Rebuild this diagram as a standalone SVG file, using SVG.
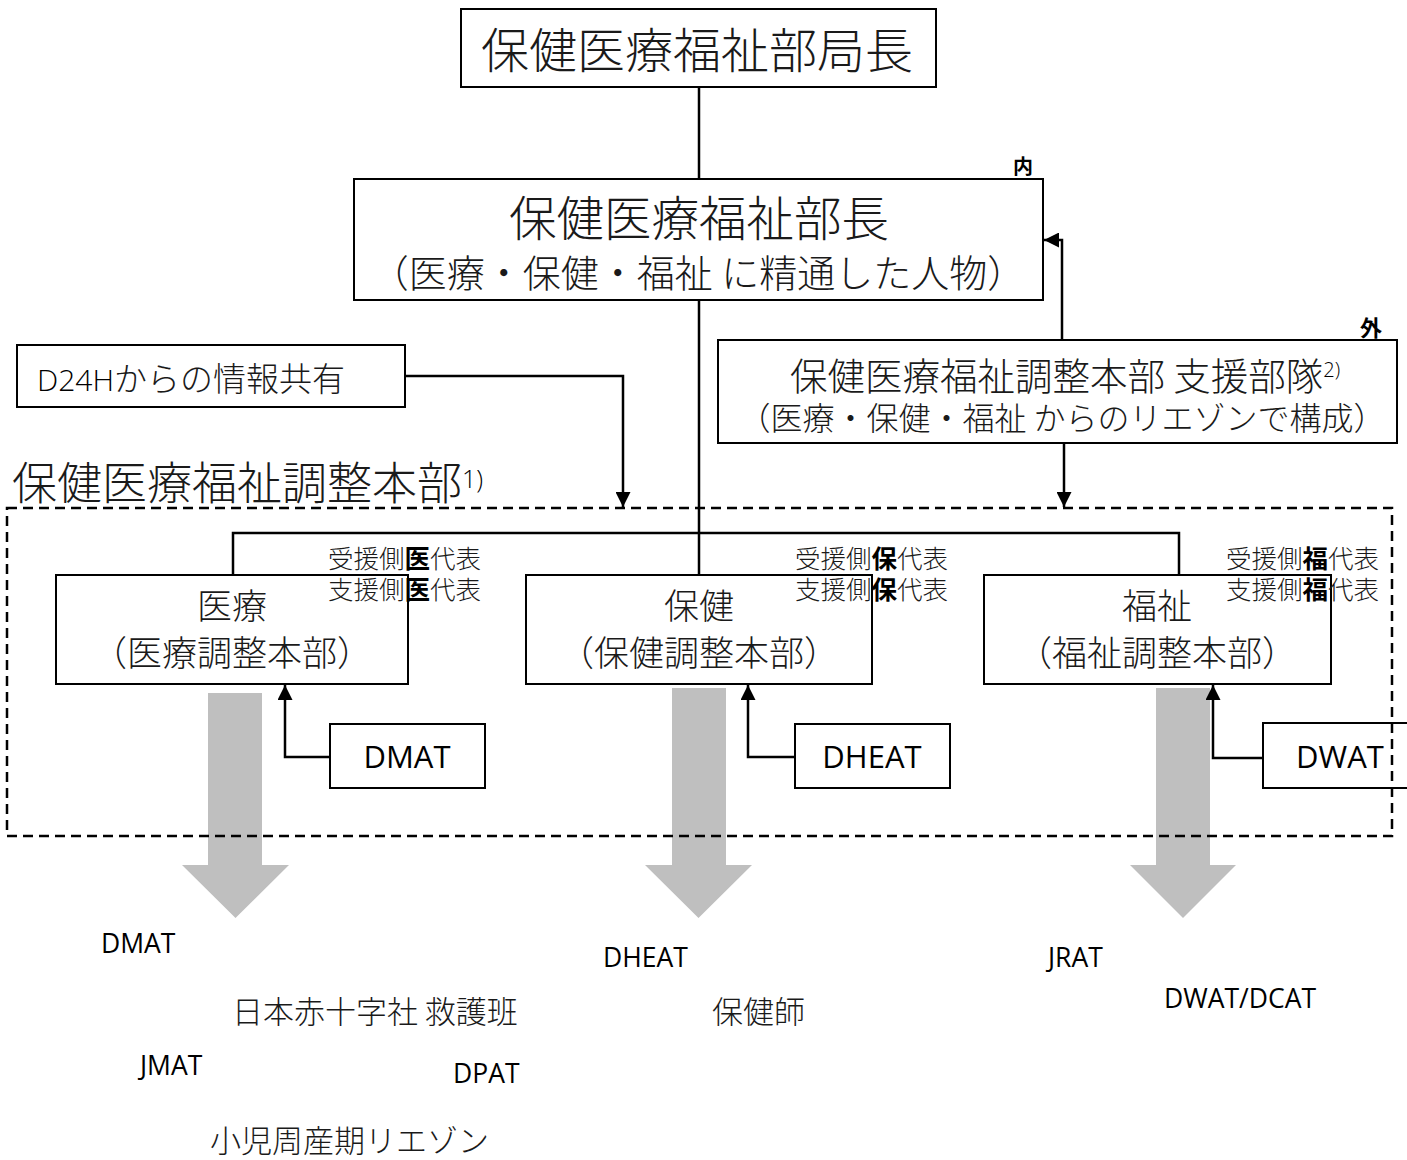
<svg xmlns="http://www.w3.org/2000/svg" width="1407" height="1160" viewBox="0 0 1407 1160">
<style>
.box{fill:#fff;stroke:#000;stroke-width:2}
.jp{font-family:"Noto Sans CJK JP","Noto Sans CJK SC",sans-serif;font-weight:300;fill:#1a1a1a}
.b{font-weight:bold;fill:#000}
.lat{font-family:"Open Sans","Liberation Sans",sans-serif;fill:#000}
.conn{fill:none;stroke:#000;stroke-width:2.5}
.gray{fill:#bfbfbf}
.dash{fill:none;stroke:#000;stroke-width:2.5;stroke-dasharray:10 6}
.m{text-anchor:middle}
</style>
<defs>
<marker id="ah" viewBox="0 0 10 10" refX="10" refY="5" markerWidth="16" markerHeight="15" markerUnits="userSpaceOnUse" orient="auto">
<path d="M0,0 L10,5 L0,10 z" fill="#000"/>
</marker>
</defs>
<rect width="1407" height="1160" fill="#fff"/>

<g id="gray-arrows">
<path class="gray" d="M208,693 H262 V865 H289 L235.5,918 L182,865 H208 Z"/>
<path class="gray" d="M672,688 H726 V865 H752 L698.5,918 L645,865 H672 Z"/>
<path class="gray" d="M1156,688 H1210 V865 H1236 L1183,918 L1130,865 H1156 Z"/>
</g>

<g id="connectors">
<path class="conn" d="M699,87 V179"/>
<path class="conn" d="M699,300 V575"/>
<path class="conn" d="M233,575 V533 H1179 V575"/>
<path class="conn" d="M405,376 H623 V507" marker-end="url(#ah)"/>
<path class="conn" d="M1062,340 V240 H1044" marker-end="url(#ah)"/>
<path class="conn" d="M1064,443 V507" marker-end="url(#ah)"/>
<path class="conn" d="M330,757 H285 V685" marker-end="url(#ah)"/>
<path class="conn" d="M795,757 H748 V685" marker-end="url(#ah)"/>
<path class="conn" d="M1263,758 H1213 V685" marker-end="url(#ah)"/>
</g>

<g id="director-general">
<rect class="box" x="461" y="9" width="475" height="78"/>
<text class="jp m" x="697" y="68" font-size="48">保健医療福祉部局長</text>
</g>

<g id="director">
<rect class="box" x="354" y="179" width="689" height="121"/>
<text class="jp m" x="699" y="236" font-size="47.5">保健医療福祉部長</text>
<text class="jp m" x="698" y="287" font-size="38">（医療・保健・福祉 に精通した人物）</text>
<text class="jp b" x="1013" y="174" font-size="20">内</text>
</g>

<g id="support-unit">
<rect class="box" x="718" y="340" width="679" height="103"/>
<text class="jp" x="790" y="390" font-size="37.5">保健医療福祉調整本部 支援部隊<tspan class="lat" font-size="20" dy="-13">2)</tspan></text>
<text class="jp m" x="1062" y="430" font-size="32">（医療・保健・福祉 からのリエゾンで構成）</text>
<text class="jp b" x="1360" y="336" font-size="22">外</text>
</g>

<g id="d24h">
<rect class="box" x="17" y="345" width="388" height="62"/>
<text class="jp" x="37" y="391" font-size="33"><tspan class="lat" font-size="30">D24H</tspan>からの情報共有</text>
</g>

<g id="hq-title">
<text class="jp" x="12" y="500" font-size="45">保健医療福祉調整本部<tspan class="lat" font-size="25" dy="-12">1)</tspan></text>
</g>

<g id="medical">
<rect class="box" x="56" y="575" width="352" height="109"/>
<text class="jp m" x="232" y="619" font-size="35">医療</text>
<text class="jp m" x="232" y="666" font-size="35">（医療調整本部）</text>
<text class="jp" x="328" y="568" font-size="25.5">受援側<tspan class="b">医</tspan>代表</text>
<text class="jp" x="328" y="599" font-size="25.5">支援側<tspan class="b">医</tspan>代表</text>
</g>

<g id="health">
<rect class="box" x="526" y="575" width="346" height="109"/>
<text class="jp m" x="699" y="619" font-size="35">保健</text>
<text class="jp m" x="699" y="666" font-size="35">（保健調整本部）</text>
<text class="jp" x="795" y="568" font-size="25.5">受援側<tspan class="b">保</tspan>代表</text>
<text class="jp" x="795" y="599" font-size="25.5">支援側<tspan class="b">保</tspan>代表</text>
</g>

<g id="welfare">
<rect class="box" x="984" y="575" width="347" height="109"/>
<text class="jp m" x="1157" y="619" font-size="35">福祉</text>
<text class="jp m" x="1157" y="666" font-size="35">（福祉調整本部）</text>
<text class="jp" x="1226" y="568" font-size="25.5">受援側<tspan class="b">福</tspan>代表</text>
<text class="jp" x="1226" y="599" font-size="25.5">支援側<tspan class="b">福</tspan>代表</text>
</g>

<g id="dmat">
<rect class="box" x="330" y="724" width="155" height="64"/>
<text class="lat m" x="407" y="768" font-size="31">DMAT</text>
</g>
<g id="dheat">
<rect class="box" x="795" y="724" width="155" height="64"/>
<text class="lat m" x="872" y="768" font-size="31">DHEAT</text>
</g>
<g id="dwat">
<rect class="box" x="1263" y="723" width="160" height="65"/>
<text class="lat m" x="1340" y="768" font-size="31">DWAT</text>
</g>

<g id="hq-frame">
<rect class="dash" x="7" y="508" width="1385" height="328"/>
</g>

<g id="teams">
<text class="lat" x="101" y="953" font-size="26.5">DMAT</text>
<text class="jp" x="232" y="1023" font-size="31">日本赤十字社 救護班</text>
<text class="lat" x="140" y="1075" font-size="26.5">JMAT</text>
<text class="lat" x="453" y="1083" font-size="26.5">DPAT</text>
<text class="jp" x="210" y="1152" font-size="31">小児周産期リエゾン</text>
<text class="lat" x="603" y="967" font-size="26.5">DHEAT</text>
<text class="jp" x="712" y="1023" font-size="31">保健師</text>
<text class="lat" x="1048" y="967" font-size="26.5">JRAT</text>
<text class="lat" x="1164" y="1008" font-size="26.5">DWAT/DCAT</text>
</g>
</svg>
